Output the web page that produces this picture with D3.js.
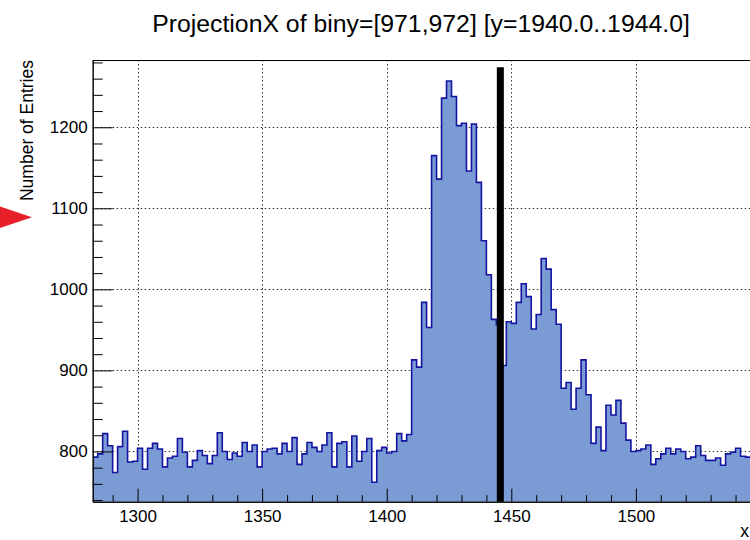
<!DOCTYPE html>
<html>
<head>
<meta charset="utf-8">
<script src="https://cdn.jsdelivr.net/npm/d3@7"></script>
<style>
  body { margin: 0; background: #fff; }
  svg { display: block; font-family: "Liberation Sans", Arial, sans-serif; }
</style>
</head>
<body>
<div class="chart"></div>
<script>
// histogram contents, bin width 2 starting at 1282
var binLow = 1282;
var binWidth = 2;
var counts = [
  793, 797, 822, 807, 774, 806, 825, 787, 788, 804,
  778, 804, 810, 803, 781, 792, 794, 816, 799, 781,
  789, 801, 795, 785, 795, 823, 800, 790, 798, 794,
  811, 800, 808, 781, 800, 803, 804, 797, 810, 800,
  817, 784, 797, 811, 805, 800, 808, 823, 781, 810,
  812, 781, 819, 788, 800, 816, 762, 801, 805, 798,
  800, 822, 813, 821, 913, 904, 984, 953, 1165, 1136,
  1236, 1257, 1238, 1202, 1205, 1146, 1204, 1132, 1060, 1018,
  963, 956, 906, 960, 958, 984, 1007, 991, 951, 969,
  1038, 1025, 975, 957, 878, 885, 852, 878, 913, 870,
  810, 830, 801, 857, 845, 863, 835, 814, 800, 801,
  803, 808, 784, 791, 797, 804, 797, 803, 800, 791,
  793, 807, 795, 789, 789, 792, 783, 797, 799, 804,
  794, 793
];
var xTicks = [1300, 1350, 1400, 1450, 1500];
var yTicks = [800, 900, 1000, 1100, 1200];
var xRange = [1282, 1546.6];
var yRange = [738, 1283];
var cutX = 1445.6;        // black vertical marker
var cutTop = 1274;
var arrowValue = 1089;    // red arrow on the y axis

var title = "ProjectionX of biny=[971,972] [y=1940.0..1944.0]";

var width = 750, height = 540;
var padLeft = 92.7, padRight = 752, padTop = 60, padBottom = 501.7;

var svg = d3.select('.chart').append('svg')
    .attr('width', width)
    .attr('height', height);

var x = d3.scaleLinear().domain(xRange).range([padLeft, padRight]);
var y = d3.scaleLinear().domain(yRange).range([padBottom, padTop]);

svg.append('clipPath').attr('id', 'frame')
  .append('rect')
    .attr('x', padLeft).attr('y', padTop)
    .attr('width', padRight - padLeft).attr('height', padBottom - padTop);

// grid under the histogram
var grid = svg.append('g').attr('stroke', '#333').attr('stroke-width', 1)
    .attr('stroke-dasharray', '1.5,2.5');
grid.selectAll('.gx').data(xTicks).enter().append('line')
    .attr('x1', d => Math.round(x(d)) + 0.5).attr('x2', d => Math.round(x(d)) + 0.5)
    .attr('y1', padTop).attr('y2', padBottom);
grid.selectAll('.gy').data(yTicks).enter().append('line')
    .attr('y1', d => Math.round(y(d)) + 0.5).attr('y2', d => Math.round(y(d)) + 0.5)
    .attr('x1', padLeft).attr('x2', padRight);

var pts = counts.map((c, i) => ({ e: binLow + i * binWidth, v: c }));
pts.push({ e: binLow + counts.length * binWidth, v: counts[counts.length - 1] });

var hist = svg.append('g').attr('clip-path', 'url(#frame)');
hist.append('path')
    .datum(pts)
    .attr('fill', '#7a9bd3')
    .attr('d', d3.area().curve(d3.curveStepAfter)
        .x(d => x(d.e)).y0(y(yRange[0])).y1(d => y(d.v)));
hist.append('path')
    .datum(pts)
    .attr('fill', 'none')
    .attr('stroke', '#1414a0')
    .attr('stroke-width', 1.6)
    .attr('d', d3.line().curve(d3.curveStepAfter)
        .x(d => x(d.e)).y(d => y(d.v)));

// axes, ROOT style ticks pointing inwards
var xMinor = d3.range(1290, xRange[1], 10).filter(v => xTicks.indexOf(v) < 0);
var yMinor = d3.range(740, yRange[1], 20).filter(v => yTicks.indexOf(v) < 0);

svg.append('g').attr('transform', 'translate(0,' + padBottom + ')')
    .call(d3.axisBottom(x).tickValues(xTicks).tickFormat(d3.format('d'))
        .tickSizeInner(-13).tickSizeOuter(0).tickPadding(8));
svg.append('g').attr('transform', 'translate(0,' + padBottom + ')')
    .call(d3.axisBottom(x).tickValues(xMinor).tickFormat('')
        .tickSizeInner(-6.6).tickSizeOuter(0));

svg.append('g').attr('transform', 'translate(' + padLeft + ',0)')
    .call(d3.axisLeft(y).tickValues(yTicks).tickFormat(d3.format('d'))
        .tickSizeInner(-20).tickSizeOuter(0).tickPadding(5));
svg.append('g').attr('transform', 'translate(' + padLeft + ',0)')
    .call(d3.axisLeft(y).tickValues(yMinor).tickFormat('')
        .tickSizeInner(-10).tickSizeOuter(0));

svg.selectAll('.domain, .tick line').attr('stroke', '#000');
svg.selectAll('.tick text').attr('font-size', 17).attr('fill', '#000')
    .attr('font-family', '"Liberation Sans", Arial, sans-serif');

// top frame line
svg.append('line')
    .attr('x1', padLeft).attr('x2', padRight)
    .attr('y1', padTop + 0.5).attr('y2', padTop + 0.5)
    .attr('stroke', '#000');

// black cut line
svg.append('line')
    .attr('x1', x(cutX)).attr('x2', x(cutX))
    .attr('y1', y(yRange[0])).attr('y2', y(cutTop))
    .attr('stroke', '#000').attr('stroke-width', 7);

// red arrow at the left
var ay = y(arrowValue);
svg.append('path')
    .attr('d', 'M-4,' + (ay - 12) + 'L32,' + ay + 'L-4,' + (ay + 12) + 'Z')
    .attr('fill', '#e8202a');

// texts
svg.append('text')
    .attr('x', 421).attr('y', 32)
    .attr('text-anchor', 'middle')
    .attr('font-size', 24.8)
    .text(title);

svg.append('text')
    .attr('transform', 'translate(33,' + padTop + ') rotate(-90)')
    .attr('text-anchor', 'end')
    .attr('font-size', 17.5)
    .text('Number of Entries');

svg.append('text')
    .attr('x', 749).attr('y', 537)
    .attr('text-anchor', 'end')
    .attr('font-size', 17.5)
    .text('x');
</script>
</body>
</html>
